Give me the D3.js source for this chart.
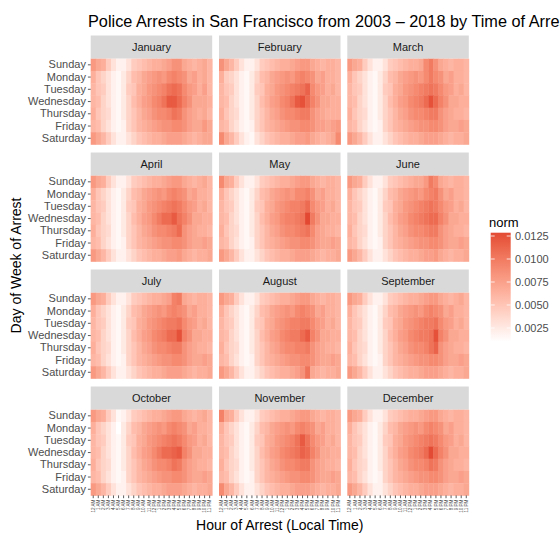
<!DOCTYPE html>
<html><head><meta charset="utf-8">
<script src="https://cdn.jsdelivr.net/npm/d3@7"></script>
<style>html,body{margin:0;padding:0;background:#fff;overflow:hidden}svg{display:block;font-family:"Liberation Sans",Arial,sans-serif}</style>
</head><body>
<svg id="chart" width="560" height="536"></svg>
<script>
const months = ["January","February","March","April","May","June","July","August","September","October","November","December"];
const days = ["Sunday","Monday","Tuesday","Wednesday","Thursday","Friday","Saturday"];
const hours = ["12 AM","1 AM","2 AM","3 AM","4 AM","5 AM","6 AM","7 AM","8 AM","9 AM","10 AM","11 AM","12 PM","1 PM","2 PM","3 PM","4 PM","5 PM","6 PM","7 PM","8 PM","9 PM","10 PM","11 PM"];
const legendTicks = [0.0025, 0.0050, 0.0075, 0.0100, 0.0125];

// norm values x 1000, rows Sunday..Saturday, columns 12 AM..11 PM
const jan = [
 [8,7,6.5,4.5,3,2,2,3,4.5,5,5.5,6,6.5,6.5,7,7.5,8.5,8.5,7,6.5,6,6.5,7,6],
 [6.5,5,4,3,2,1.5,2.5,4,5.5,6,7,7.5,8,8.5,8,9,9.5,9,8.5,7,7.5,6.5,7,6],
 [6,5,4.5,3,2,1.5,2.5,4.5,5,6.5,7,8,8.5,9,9.5,10.5,11,10.5,9,8,7.5,6.5,7.5,6],
 [6,5.5,4,3,2,1.5,2.5,4,5.5,6.5,7.5,8,9,9.5,10.5,12,12,11,9.5,8.5,7,7,7,6.5],
 [6.5,5,4,3.5,2,1.5,2.5,4,5,6,7,7.5,8.5,9,9,9.5,10.5,10,8.5,7.5,7,6.5,7,6],
 [6,5.5,4,3,2,1.5,2,4,5,6,6.5,7,7.5,8,8.5,8.5,9,9,8.5,7.5,7,7,8,7],
 [8,7,6,4.5,3,2,2,3,4,5,5.5,6,6.5,6.5,7,7.5,7.5,7.5,7,6.5,6,6.5,7,7]];
const feb = [
 [8.5,7,6,4.5,3,2,2,3,4.5,5,5.5,6,6.5,6.5,7,7.5,8,8,7,6.5,6,6.5,6.5,6],
 [6.5,4.5,4,3,2,1.5,2.5,4,5.5,6,7,7.5,8,8.5,8,9,9.5,9,8.5,7,7.5,6.5,6.5,6],
 [6,5,4.5,3,2,1.5,2.5,4.5,5,6.5,7,8,8.5,9,9.5,10,10.5,11.5,9,8,7.5,6.5,7,6],
 [6,5.5,4,3,2,1.5,2.5,4,5.5,6.5,7.5,8,9,9.5,10.5,12,12.5,11,9.5,8.5,7,7,6.5,6.5],
 [6.5,5,4,3.5,2,1.5,2.5,4,5,6,7,7.5,8.5,9,9,9.5,10,10,8.5,7.5,7,6.5,6.5,6.5],
 [6,5.5,4,3,2,1.5,2,4,5,6,6.5,7,7.5,8,8.5,8.5,9,9,8.5,7.5,7.5,7,7.5,8],
 [9,7,6,4.5,3,2,1.5,3,4,5,5.5,6,6.5,6.5,7,7.5,7.5,8,7,6.5,6,6.5,7,9]];
const mar = [
 [8,7,6.5,4.5,3,2,2,3,4.5,5,5.5,6,6.5,6.5,7,9,10,8.5,7,6.5,6,6.5,6.5,6],
 [6.5,5,4,3,2,1.5,2.5,4,5.5,6,7,7.5,8,8.5,8,9,10,9,8.5,7,7.5,6.5,6.5,6],
 [6,5,4.5,3,2,1.5,2.5,4.5,5,6.5,7,8,8.5,9,9.5,10,10.5,10,9,8,7.5,6.5,7,6],
 [6,5.5,4,3,2,1.5,2.5,4,5.5,6.5,7.5,8,9,9.5,10,11,12.5,11,9.5,8.5,7,7,6.5,6.5],
 [6.5,5,4,3.5,2,1.5,2.5,4,5,6,7,7.5,8.5,9,9,9.5,10,10,8.5,7.5,7,6.5,6.5,6],
 [6,5.5,4,3,2,1.5,2,4,5,6,6.5,7,7.5,8,8.5,8.5,9,9,8.5,7.5,7,7,7.5,7],
 [8,7,6,4.5,3,2,2,3,4,5,5.5,6,6.5,6.5,7,7.5,7.5,7.5,7,6.5,6,6.5,6.5,7]];
const apr = [
 [8,7,6.5,4.5,3,2,2,3,4.5,5,5.5,6,6.5,6.5,7,7.5,8,8,7,6.5,6,6.5,7,6],
 [6.5,5,4,3,2,1.5,2.5,4,5.5,6,7,7.5,8,8.5,8,9,9.5,9,8.5,7,7.5,6.5,6.5,6],
 [6,5,4.5,3,2,1.5,2.5,4.5,5,6.5,7,8,8.5,9,9.5,10,10.5,10,9,8,7.5,6.5,7,6],
 [6,5.5,4,3,2,1.5,2.5,4,5.5,6.5,7.5,8,9,10,11,11,12,10.5,9.5,8.5,7,7,6.5,6.5],
 [6.5,5,4,3.5,2,1.5,2.5,4,5,6,7,7.5,8.5,9,9,9.5,10,11,8.5,7.5,7,6.5,6.5,6],
 [6,5.5,4,3,2,1.5,2,4,5,6,6.5,7,7.5,8,8.5,8.5,9,9,8.5,7.5,7,7,7.5,7],
 [8,7,6,4.5,3,2,2,3,4,5,5.5,6,6.5,6.5,7,7.5,7.5,8,7,6.5,6,6.5,6.5,7]];
const may = [
 [9,7,6.5,4.5,3,2,2,3,4.5,5,5.5,6,6.5,6.5,7,7.5,8,8,7,6.5,6,6.5,6.5,6],
 [6.5,5,4,3,2,1.5,2.5,4,5.5,6,7,7.5,8,8.5,8,9,9,9.5,8.5,7,7.5,6.5,6.5,6],
 [6,5,4.5,3,2,1.5,2.5,4.5,5,6.5,7,8,8.5,9,9.5,9.5,10,11,9,8,7.5,6.5,7,6],
 [6,5.5,4,3,2,1.5,2.5,4,5.5,6.5,7.5,8,9,9.5,9.5,10,10.5,12.9,10,8.5,7,7,6.5,6.5],
 [6.5,5,4,3.5,2,1.5,2.5,4,5,6,7,7.5,8.5,9,9,9.5,10,10.5,9,7.5,7,6.5,6.5,6],
 [6,5.5,4,3,2,1.5,2,4,5,6,6.5,7,7.5,8,8.5,8.5,9,9,8.5,7.5,7,7,7.5,7],
 [8,7,6,4.5,3,2,2,3,4,5,5.5,6,6.5,6.5,7,7.5,7.5,7.5,7,6.5,6,6.5,6.5,7]];
const jun = [
 [8,7,6.5,4.5,3,2,2,3,4.5,5,5.5,6,6.5,7,7,8,10,9,7,6.5,6,6.5,6.5,6],
 [6.5,5,4,3,2,1.5,2.5,4,5.5,6,7,7.5,8,8.5,8,9,9.5,10,8.5,7,7.5,6.5,6.5,6],
 [6,5,4.5,3,2,1.5,2.5,4.5,5,6.5,7,8,8.5,9,9.5,10,10.5,10,9,8,7.5,6.5,7,6],
 [6,5.5,4,3,2,1.5,2.5,4,5.5,6.5,7.5,8,9,9.5,10,10.5,11,11,9.5,8.5,7,7,6.5,6.5],
 [6.5,5,4,3.5,2,1.5,2.5,4,5,6,7,7.5,8.5,9,9,9.5,10,10,8.5,7.5,7,6.5,6.5,6],
 [6,5.5,4,3,2,1.5,2,4,5,6,6.5,7,7.5,8,8.5,8.5,9,9,8.5,7.5,7,7,7.5,7],
 [8,7,6,4.5,3,2,2,3,4,5,5.5,6,6.5,6.5,7,7.5,7.5,8,7,6.5,6,6.5,6.5,7]];
const jul = [
 [8,7,6.5,4.5,3,2,2,3,4.5,5,5.5,6,6.5,6.5,7,7.5,9.5,10,7,6.5,6,6.5,6.5,6],
 [6.5,5,4,3,2,1.5,2.5,4,5.5,6,7,7.5,8,8.5,8,9,9.5,9,8.5,7,7.5,6.5,6.5,6],
 [6,5,4.5,3,2,1.5,2.5,4.5,5,6.5,7,8,8.5,9,9.5,10,10,10.5,9,8,7.5,6.5,7,6],
 [6,5.5,4,3,2,1.5,2.5,4,5.5,6.5,7.5,8,9,9.5,10,11,11,12.5,9.5,8.5,7,7,6.5,6.5],
 [6.5,5,4,3.5,2,1.5,2.5,4,5,6,7,7.5,8.5,9,9,9.5,10,10,8.5,7.5,7,6.5,6.5,6],
 [6,5.5,4,3,2,1.5,2,4,5,6,6.5,7,7.5,8,8.5,8.5,9,9,8.5,7.5,7,7,7.5,7],
 [8,7,6,4.5,3,2,2,3,4,5,5.5,6,6.5,6.5,7,7.5,7.5,7.5,7,6.5,6,6.5,6.5,7]];
const aug = [
 [8,7,6.5,4.5,3,2,2,3,4.5,5,5.5,6,6.5,6.5,7,7.5,8,8,7,6.5,6,6.5,6.5,6],
 [6.5,5,4,3,2,1.5,2.5,4,5.5,6,7,7.5,8,8.5,8,9,9.5,9,8.5,7,7.5,6.5,6.5,6],
 [6,5,4.5,3,2,1.5,2.5,4.5,5,6.5,7,8,8.5,9,9.5,9.5,10,10,9,8,7.5,6.5,7,6],
 [6,5.5,4,3,2,1.5,2.5,4,5.5,6.5,7.5,8,9,9.5,10,10,11,12,9.5,8.5,7,7,6.5,6.5],
 [6.5,5,4,3.5,2,1.5,2.5,4,5,6,7,7.5,8.5,9,9,9.5,9.5,10,8.5,7.5,7,6.5,6.5,6],
 [6,5.5,4,3,2,1.5,2,4,5,6,6.5,7,7.5,8,8.5,8.5,9,9,8.5,7.5,7,7,7.5,7],
 [8,7,6,4.5,3,2,2,3,4,5,5.5,6,6.5,6.5,7,7.5,8.5,10.5,7,6.5,6,6.5,6.5,7]];
const sep = [
 [8,7,6.5,4.5,3,2,2,3,4.5,5,5.5,6,6.5,6.5,7,7.5,8,8,7,6.5,6,6.5,7,6],
 [6.5,5,4,3,2,1.5,2.5,4,5.5,6,7,7.5,8,8.5,8,9,9.5,9,8.5,7,7.5,6.5,6.5,6],
 [6,5,4.5,3,2,1.5,2.5,4.5,5,6.5,7,8,8.5,9,9.5,10,10,10.5,9,8,7.5,6.5,7,6],
 [6,5.5,4,3,2,1.5,2.5,4,5.5,6.5,7.5,8,9,9.5,10,10,10.5,12.5,9.5,8.5,7,7,6.5,6.5],
 [6.5,5,4,3.5,2,1.5,2.5,4,5,6,7,7.5,8.5,9,9,9.5,10.5,11.5,8.5,7.5,7,6.5,6.5,6],
 [6,5.5,4,3,2,1.5,2,4,5,6,6.5,7,7.5,8,8.5,8.5,9,9,8.5,7.5,7,7,7.5,7],
 [8,7,6,4.5,3,2,2,3,4,5,5.5,6,6.5,6.5,7,7.5,7.5,7.5,7,6.5,6,6.5,6.5,7]];
const oct = [
 [8,7,6.5,4.5,3,1.5,2,3,4.5,5,5.5,6,6.5,6.5,7,7.5,8,8,7,6.5,6,6.5,7,6],
 [6.5,5,4,3,2,1,2.5,4,5.5,6,7,7.5,8,8.5,8,9,9.5,9,8.5,7,7.5,6.5,6.5,6],
 [6,5,4.5,3,2,1.5,2.5,4.5,5,6.5,7,8,8.5,9,9.5,10,10.5,10,9,8,7.5,6.5,7,6],
 [6,5.5,4,3,2,1.5,2.5,4,5.5,6.5,7.5,8,9,10,11,11,11.5,12,9.5,8.5,7,7,6.5,6.5],
 [6.5,5,4,3.5,2,1.5,2.5,4,5,6,7,7.5,8.5,9,9,9.5,10.5,10,8.5,7.5,7,6.5,6.5,6],
 [6,5.5,4,3,2,1.5,2,4,5,6,6.5,7,7.5,8,8.5,8.5,9,9,8.5,7.5,7,7,7.5,7],
 [8,7,6,4.5,3,2,2,3,4,5,5.5,6,6.5,6.5,7,7.5,7.5,7.5,7,6.5,6,6.5,6.5,7]];
const nov = [
 [9.5,7,6.5,4.5,3,2,2,3,4.5,5,5.5,6,6.5,6.5,7,7.5,8,8,7,6.5,6,6.5,6.5,6],
 [6.5,5,4,3,2,1.5,2.5,4,5.5,6,7,7.5,8,8.5,8,9,9.5,9,8.5,7,7.5,6.5,6.5,6],
 [6,5,4.5,3,2,1.5,2.5,4.5,5,6.5,7,8,8.5,9,9.5,10.5,12,10.5,9,8,7.5,6.5,7,6],
 [6,5.5,4,3,2,1.5,2.5,4,5.5,6.5,7.5,8,9,9.5,10,10.5,11.5,11,9.5,8.5,7,7,6.5,6.5],
 [6.5,5,4,3.5,2,1.5,2.5,4,5,6,7,7.5,8.5,9,9,9.5,10,10,8.5,7.5,7,6.5,6.5,6],
 [6,5.5,4,3,2,1.5,2,4,5,6,6.5,7,7.5,8,8.5,8.5,9,9,8.5,7.5,7,7,7.5,7],
 [9,7,6,4.5,3,2,2,3,4,5,5.5,6,6.5,6.5,7,7.5,7.5,7.5,7,6.5,6,6.5,6.5,7]];
const dec = [
 [8,7,6.5,4.5,3,2,2,3,4.5,5,5.5,6,6.5,6.5,7,7.5,8,8,7,6.5,6,6.5,6.5,6],
 [6.5,5,4,3,2,1.5,2.5,4,5.5,6,7,7.5,8,8.5,8,9,9.5,9,8.5,7,7.5,6.5,6.5,6],
 [6,5,4.5,3,2,1.5,2.5,4.5,5,6.5,7,8,8.5,9,9.5,10,10.5,10,9,8,7.5,6.5,7,6],
 [6,5.5,4,3,2,1.5,2.5,4,5.5,6.5,7.5,8,9,9.5,10,11,12.8,11,9.5,8.5,7,7,6.5,6.5],
 [6.5,5,4,3.5,2,1.5,2.5,4,5,6,7,7.5,8.5,9,9,9.5,10.5,10,8.5,7.5,7,6.5,6.5,6],
 [6,5.5,4,3,2,1.5,2,4,5,6,6.5,7,7.5,8,8.5,8.5,9,9,8.5,7.5,7,7,7.5,7],
 [8,7,6,4.5,3,2,2,3,4,5,5.5,6,6.5,6.5,7,7.5,7.5,7.5,7,6.5,6,6.5,6.5,7]];
const monthData = [jan,feb,mar,apr,may,jun,jul,aug,sep,oct,nov,dec];

const svg = d3.select("#chart");
const panelW = 121.5, panelH = 85.7, colStep = 128.3, rowStep = 117;
const left0 = 90.7, stripTop0 = 35.5, stripH = 23.2;

const color = d3.scaleLinear().domain([0.00101, 0.01286]).range(["#ffffff", "#e34a33"]).interpolate(d3.interpolateLab);
const x = d3.scaleBand().domain(hours).range([0, panelW]);
const y = d3.scaleBand().domain(days).range([0, panelH]);

svg.append("text").attr("x", 88).attr("y", 26.5).attr("font-size", 16.3).attr("fill", "#000")
  .text("Police Arrests in San Francisco from 2003 \u2013 2018 by Time of Arrest");

months.forEach((m, i) => {
  const col = i % 3, row = Math.floor(i / 3);
  const gx = left0 + col * colStep;
  const sTop = stripTop0 + row * rowStep;
  const pTop = sTop + stripH;
  const g = svg.append("g");
  g.append("rect").attr("x", gx).attr("y", sTop).attr("width", panelW).attr("height", stripH).attr("fill", "#d9d9d9");
  g.append("text").attr("x", gx + panelW / 2).attr("y", sTop + stripH / 2).attr("dy", "0.36em")
    .attr("text-anchor", "middle").attr("font-size", 11).attr("fill", "#1a1a1a").text(m);
  const pg = g.append("g").attr("transform", `translate(${gx},${pTop})`);
  const cells = [];
  monthData[i].forEach((r, di) => r.forEach((v, hi) => cells.push({d: days[di], h: hours[hi], v: v / 1000})));
  pg.selectAll("rect").data(cells).join("rect")
    .attr("x", d => x(d.h)).attr("y", d => y(d.d))
    .attr("width", x.bandwidth() + 0.4).attr("height", y.bandwidth() + 0.4)
    .attr("fill", d => color(d.v));
  if (col === 0) {
    const ay = pg.append("g").call(d3.axisLeft(y).tickSize(2.8).tickPadding(2));
    ay.select(".domain").remove();
    ay.selectAll("line").attr("stroke", "#333").attr("stroke-width", 0.8);
    ay.selectAll("text").attr("font-size", 11).attr("fill", "#4d4d4d").attr("font-family", "Liberation Sans, Arial, sans-serif");
  }
  if (row === 3) {
    const ax = pg.append("g").attr("transform", `translate(0,${panelH})`).call(d3.axisBottom(x).tickSize(2.8));
    ax.select(".domain").remove();
    ax.selectAll("line").attr("stroke", "#333").attr("stroke-width", 0.8);
    ax.selectAll("text").attr("transform", "rotate(-90)").attr("x", -4.2).attr("y", 0).attr("dy", "0.35em")
      .attr("text-anchor", "end").attr("font-size", 4.6).attr("fill", "#4d4d4d").attr("font-family", "Liberation Sans, Arial, sans-serif");
  }
});

// axis titles
svg.append("text").attr("x", left0 + (2 * colStep + panelW) / 2).attr("y", 530).attr("text-anchor", "middle")
  .attr("font-size", 14).attr("fill", "#000").text("Hour of Arrest (Local Time)");
svg.append("text").attr("transform", `translate(21,${(stripTop0 + 3 * rowStep + stripH + panelH + stripTop0) / 2}) rotate(-90)`)
  .attr("text-anchor", "middle").attr("font-size", 14).attr("fill", "#000").text("Day of Week of Arrest");

// legend
const lx = 490.7, lTop = 232.7, lBot = 341.7, lw = 20;
const defs = svg.append("defs");
const grad = defs.append("linearGradient").attr("id", "lg").attr("x1", 0).attr("y1", 1).attr("x2", 0).attr("y2", 0);
d3.range(0, 1.0001, 0.05).forEach(t => {
  const v = color.domain()[0] + t * (color.domain()[1] - color.domain()[0]);
  grad.append("stop").attr("offset", t).attr("stop-color", color(v));
});
svg.append("text").attr("x", 489).attr("y", 227).attr("font-size", 13).attr("fill", "#000").text("norm");
svg.append("rect").attr("x", lx).attr("y", lTop).attr("width", lw).attr("height", lBot - lTop).attr("fill", "url(#lg)");
const ls = d3.scaleLinear().domain(color.domain()).range([lBot, lTop]);
const lg = svg.append("g");
legendTicks.forEach(t => {
  lg.append("line").attr("x1", lx).attr("x2", lx + 4).attr("y1", ls(t)).attr("y2", ls(t)).attr("stroke", "#fff").attr("stroke-width", 0.8);
  lg.append("line").attr("x1", lx + lw - 4).attr("x2", lx + lw).attr("y1", ls(t)).attr("y2", ls(t)).attr("stroke", "#fff").attr("stroke-width", 0.8);
  lg.append("text").attr("x", 515).attr("y", ls(t)).attr("dy", "0.36em").attr("font-size", 11).attr("fill", "#4d4d4d").text(d3.format(".4f")(t));
});
</script>
</body></html>
